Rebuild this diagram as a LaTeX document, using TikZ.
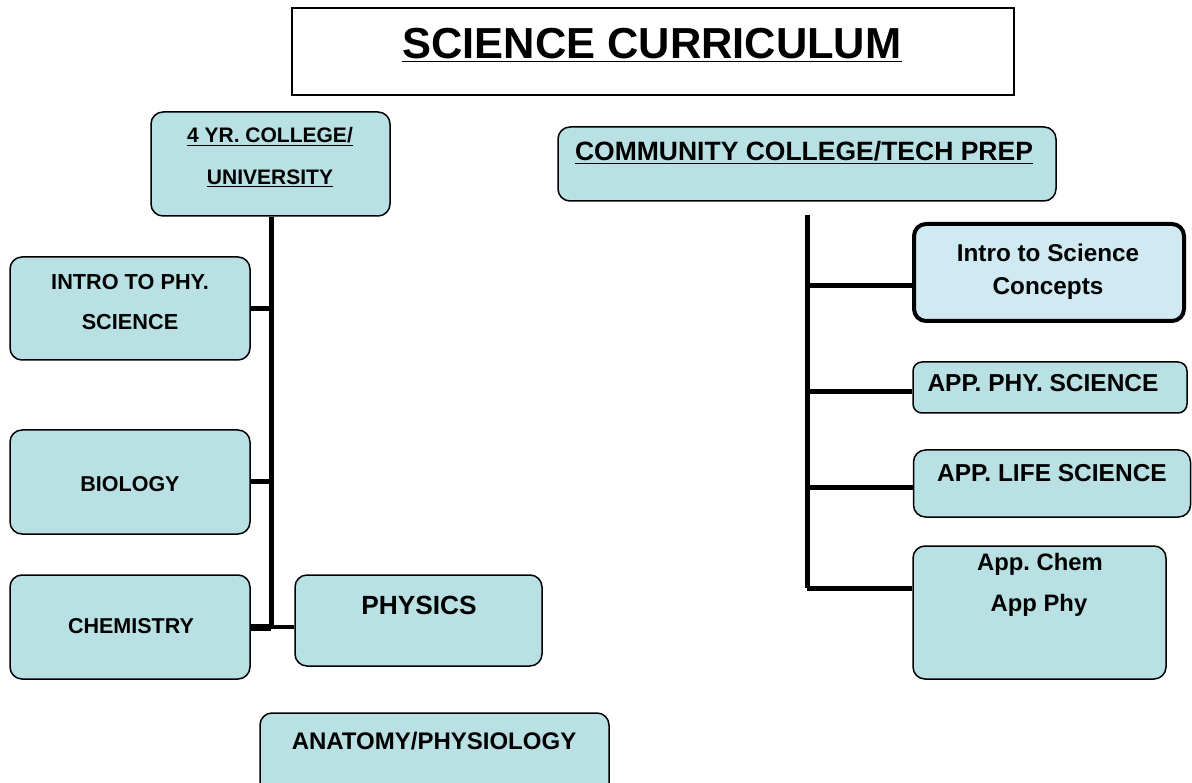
\documentclass[tikz,border=0pt]{standalone}
\usepackage{fontspec}
\setmainfont{Liberation Sans}
\frenchspacing
\definecolor{boxc}{HTML}{B9E0E3}
\definecolor{boxl}{HTML}{CFEAF3}
\tikzset{
  box/.style={draw, line width=1.5pt, rounded corners=12pt, fill=boxc, inner sep=0pt},
  conn/.style={line width=5pt},
  txt/.style={anchor=base, inner sep=0pt, font=\fontsize{#1}{#1}\selectfont\bfseries},
}
\begin{document}
\begin{tikzpicture}[x=1pt,y=-1pt]
\useasboundingbox (0,0) rectangle (1192,783);
% boxes
\node[draw, line width=1.2pt, inner sep=0pt, minimum width=722pt, minimum height=87pt] (title) at (653,51.5) {};
\node[box, minimum width=239pt, minimum height=104pt] (univ) at (270.5,164) {};
\node[box, minimum width=498pt, minimum height=74pt] (ccol) at (807,164) {};
\node[box, minimum width=240pt, minimum height=103pt] (ips) at (130,308.5) {};
\node[box, minimum width=240pt, minimum height=104pt] (bio) at (130,482) {};
\node[box, minimum width=240pt, minimum height=104pt] (chem) at (130,627) {};
\node[box, minimum width=247pt, minimum height=91pt] (phys) at (418.5,620.5) {};
\node[box, minimum width=349pt, minimum height=87pt] (anat) at (434.5,756.5) {};
\node[box, fill=boxl, line width=4pt, minimum width=270pt, minimum height=97pt] (isc) at (1049,272.5) {};
\node[box, rounded corners=9pt, minimum width=274pt, minimum height=51pt] (aps) at (1050,387.5) {};
\node[box, minimum width=277pt, minimum height=67pt] (als) at (1052,483.5) {};
\node[box, minimum width=253pt, minimum height=133pt] (acp) at (1039.5,612.5) {};
% texts
\node[txt=43.4] (t0) at (652,59) {\underline{SCIENCE CURRICULUM}};
\node[txt=21] (t1) at (270,143) {\underline{4 YR. COLLEGE/}};
\node[txt=21] (t2) at (270,185) {\underline{UNIVERSITY}};
\node[txt=26.5] (t3) at (804,161) {\underline{COMMUNITY COLLEGE/TECH PREP}};
\node[txt=21.7] (t4) at (130,290) {INTRO TO PHY.};
\node[txt=21.7] (t5) at (130,330) {SCIENCE};
\node[txt=21.5] (t6) at (130,491) {BIOLOGY};
\node[txt=21.5] (t7) at (131,633) {CHEMISTRY};
\node[txt=26.3] (t8) at (419,614) {PHYSICS};
\node[txt=24] (t9) at (434,749) {ANATOMY/PHYSIOLOGY};
\node[txt=24.3] (t10) at (1048,262) {Intro to Science};
\node[txt=24.3] (t11) at (1048,295) {Concepts};
\node[txt=24.5] (t12) at (1043,392) {APP. PHY. SCIENCE};
\node[txt=24.5] (t13) at (1052,482) {APP. LIFE SCIENCE};
\node[txt=23.8] (t14) at (1040,570) {App. Chem};
\node[txt=23.8] (t15) at (1039,611) {App Phy};
% left connectors
\coordinate (lb) at (271,628);
\draw[conn] (univ.south -| lb) -- (lb);
\draw[conn] (ips.east) -- (ips.east -| lb);
\draw[conn] (bio.east) -- (bio.east -| lb);
\draw[line width=7pt] (chem.east) -- (chem.east -| lb);
\draw[line width=4.5pt] (chem.east -| lb) -- (chem.east -| phys.west);
% right connectors
\coordinate (rt) at (807,215);
\coordinate (rb) at (807,588);
\coordinate (r1) at (807,286);
\coordinate (r2) at (807,392);
\coordinate (r3) at (807,488);
\draw[conn] (rt) -- (rb);
\draw[conn] (r1) -- (r1 -| isc.west);
\draw[conn] (r2) -- (r2 -| aps.west);
\draw[conn] (r3) -- (r3 -| als.west);
\draw[conn] (rb) -- (rb -| acp.west);
\end{tikzpicture}
\end{document}
